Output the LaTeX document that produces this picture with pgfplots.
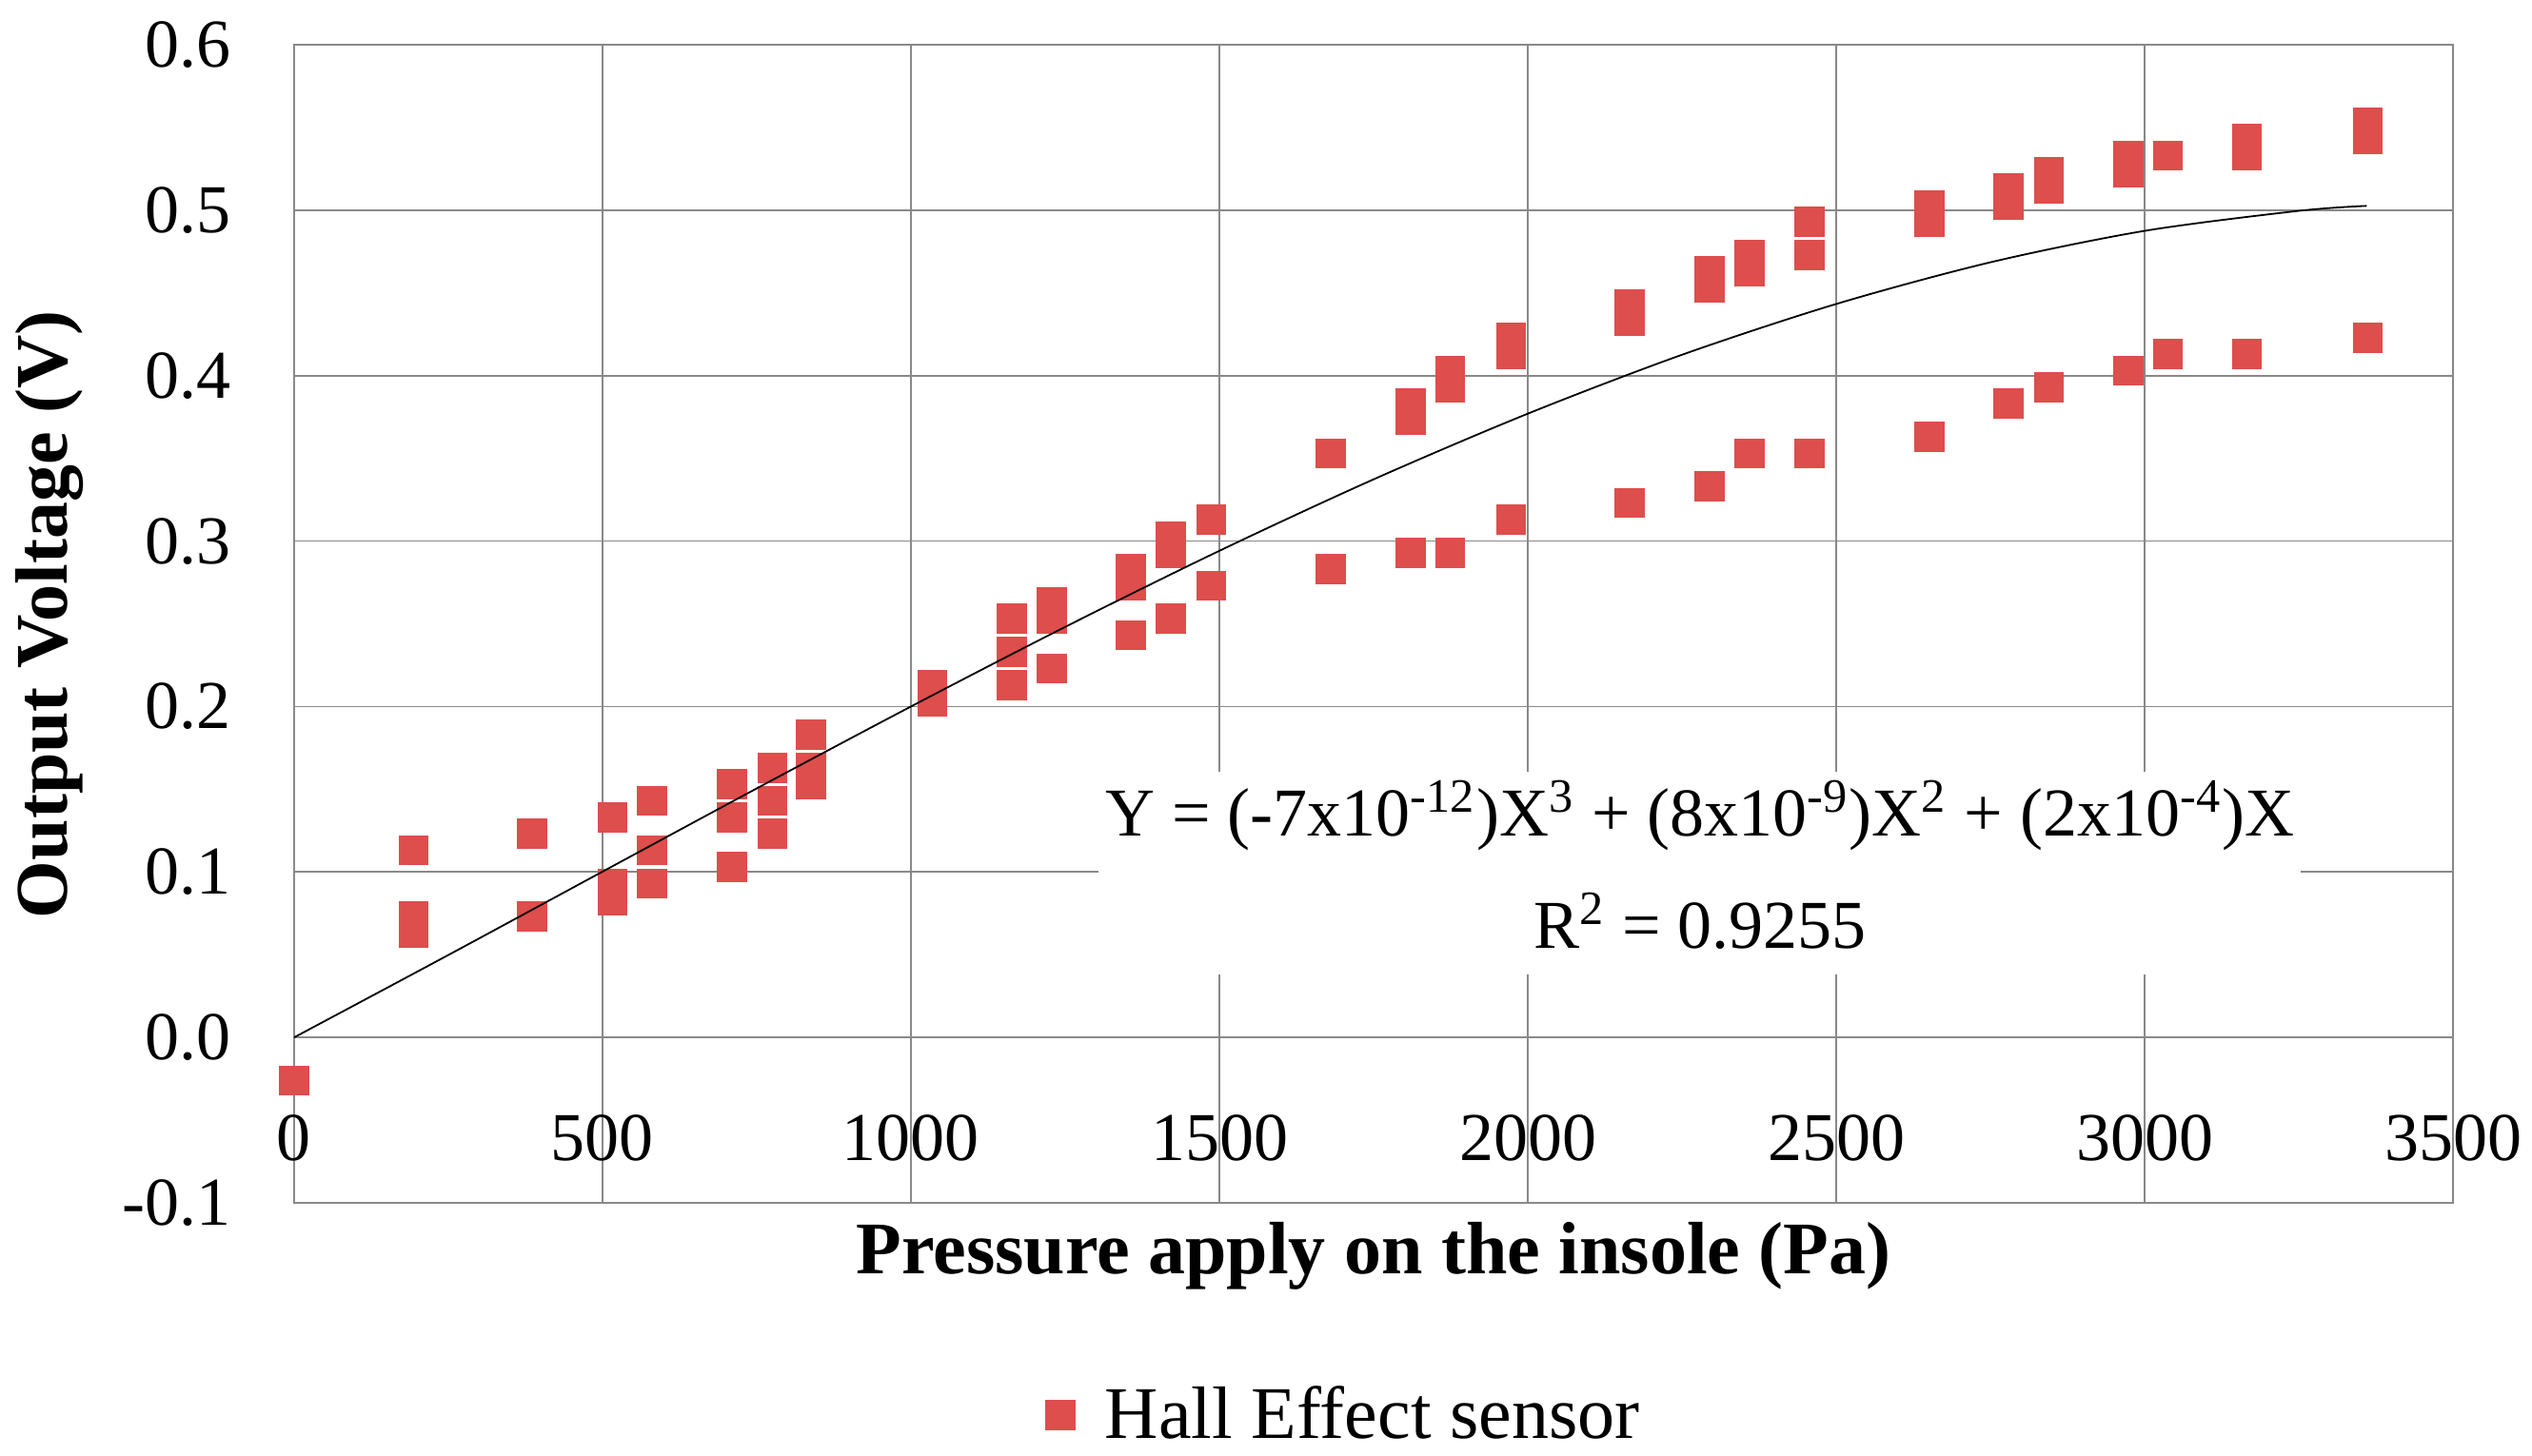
\documentclass[border=0pt]{standalone}
\usepackage{fontspec}
\setmainfont{Liberation Serif}
\usepackage{pgfplots}
\pgfplotsset{compat=1.18}
\definecolor{hall}{RGB}{221,78,76}
\definecolor{gridc}{RGB}{137,137,137}
\pgfplotstableread{
x y
0 -0.026
193.5 0.113
193.5 0.073
193.5 0.063
386 0.123
386 0.073
516 0.133
516 0.093
516 0.083
580.6 0.143
580.6 0.113
580.6 0.093
710 0.153
710 0.133
710 0.103
775.5 0.163
775.5 0.143
775.5 0.123
838 0.183
838 0.163
838 0.153
1034.7 0.213
1034.7 0.203
1163.5 0.253
1163.5 0.233
1163.5 0.213
1228 0.263
1228 0.253
1228 0.223
1356.6 0.283
1356.6 0.273
1356.6 0.243
1421 0.303
1421 0.293
1421 0.253
1487 0.313
1487 0.273
1681 0.353
1681 0.283
1810 0.383
1810 0.373
1810 0.293
1874 0.403
1874 0.393
1874 0.293
1973 0.423
1973 0.413
1973 0.313
2165 0.443
2165 0.433
2165 0.323
2295 0.463
2295 0.453
2295 0.333
2360 0.473
2360 0.463
2360 0.353
2457 0.493
2457 0.473
2457 0.353
2651 0.503
2651 0.493
2651 0.363
2779 0.513
2779 0.503
2779 0.383
2845 0.523
2845 0.513
2845 0.393
2974 0.533
2974 0.523
2974 0.403
3038 0.533
3038 0.413
3166 0.543
3166 0.533
3166 0.413
3362 0.553
3362 0.543
3362 0.423
}\hall
\begin{document}
\begin{tikzpicture}
\useasboundingbox (0,0) rectangle (665pt,382.5pt);
\begin{axis}[
  at={(77.25pt,66.5pt)}, anchor=south west,
  scale only axis, width=567pt, height=304.25pt,
  xmin=0, xmax=3500, ymin=-0.1, ymax=0.6,
  xtick={0,500,1000,1500,2000,2500,3000,3500},
  ytick={-0.1,0,0.1,0.2,0.3,0.4,0.5,0.6},
  major tick length=0pt,
  grid=major,
  major grid style={gridc, line width=0.45pt},
  axis line style={gridc, line width=0.45pt},
  scaled ticks=false,
  /pgf/number format/assume math mode=true,
  tick label style={font=\fontsize{18}{21}\selectfont, black},
  yticklabel style={xshift=-13pt, /pgf/number format/.cd, fixed, fixed zerofill, precision=1},
  xticklabel style={anchor=center, yshift=17pt, /pgf/number format/.cd, 1000 sep={}},
  xlabel={Pressure apply on the insole (Pa)},
  xlabel style={font=\bfseries\fontsize{19.5}{22}\selectfont, at={(axis description cs:0.5,-0.046)}, anchor=center},
  ylabel={Output Voltage (V)},
  ylabel style={font=\bfseries\fontsize{19.5}{22}\selectfont, at={(axis description cs:-0.1133,0.508)}, anchor=center},
  legend style={at={(axis description cs:0.4875,-0.1832)}, anchor=center, draw=none, fill=none, font=\fontsize{19.5}{22}\selectfont},
  clip mode=individual,
]
\addplot[only marks, mark=square*, mark size=3.75pt, color=hall, mark options={draw=none, fill=hall}] table {\hall};
\addlegendentry{\hspace{6pt}Hall Effect sensor}
\addplot[black, line width=0.45pt, smooth, forget plot] coordinates {
(0,0) (250,0.0498) (500,0.1002) (750,0.1505) (1000,0.2) (1250,0.2481)
(1500,0.2941) (1750,0.3373) (2000,0.377) (2250,0.4126) (2500,0.4433)
(2750,0.4685) (3000,0.4875) (3250,0.4996) (3360,0.5026)};
\node[fill=white, inner sep=0pt, minimum width=315.75pt, minimum height=53.25pt] at (rel axis cs:0.651,0.2847) {};
\node[anchor=base, inner sep=0pt, font=\fontsize{18}{21}\selectfont] at (rel axis cs:0.6512,0.3164) {Y = (-7x10\textsuperscript{-12})X\textsuperscript{3} + (8x10\textsuperscript{-9})X\textsuperscript{2} + (2x10\textsuperscript{-4})X};
\node[anchor=base, inner sep=0pt, font=\fontsize{18}{21}\selectfont] at (rel axis cs:0.6512,0.2194) {R\textsuperscript{2} = 0.9255};
\end{axis}
\end{tikzpicture}
\end{document}
